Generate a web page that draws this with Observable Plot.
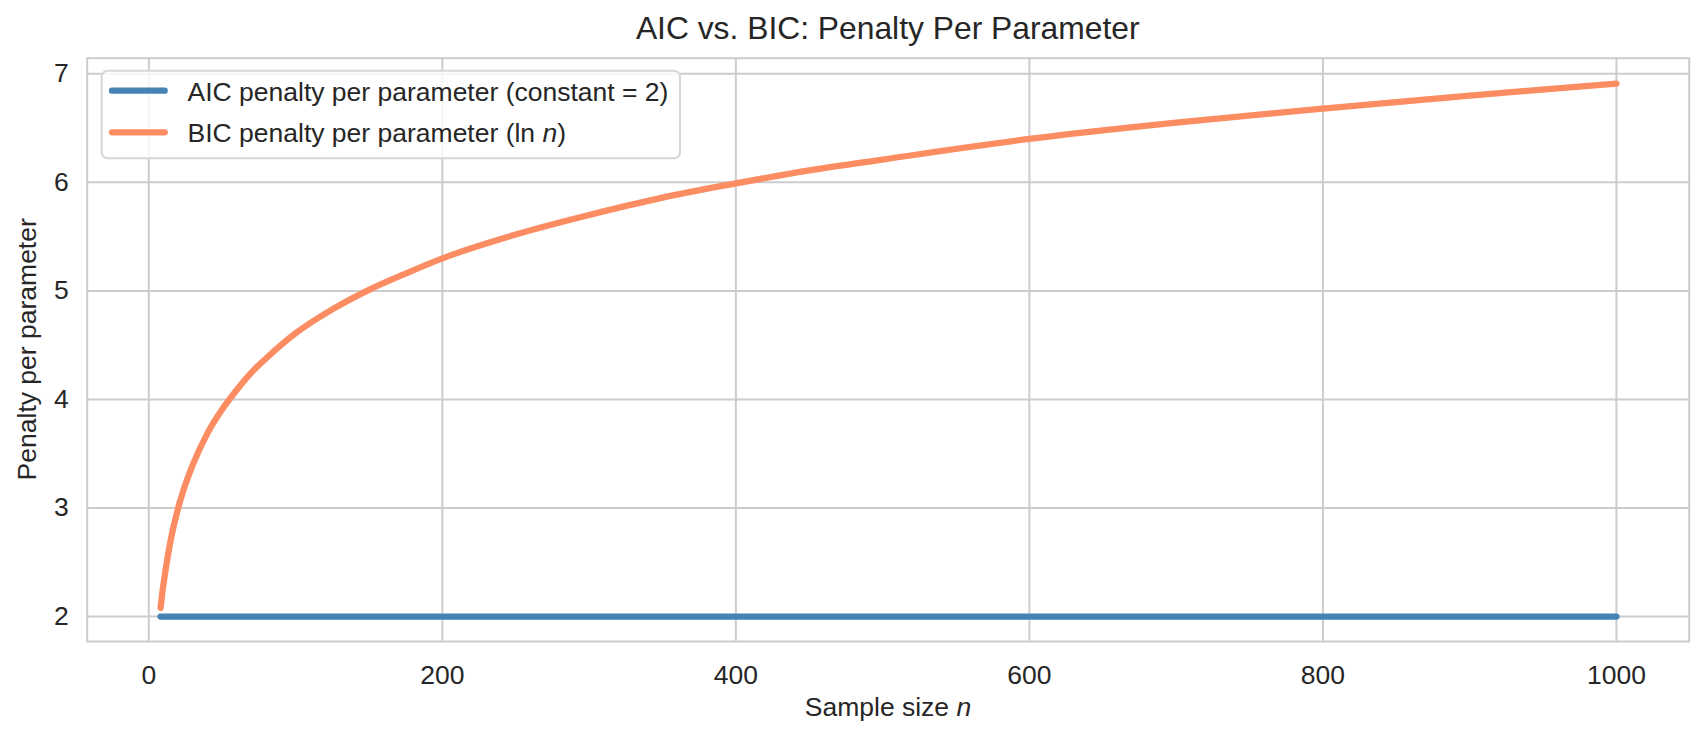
<!DOCTYPE html>
<html>
<head>
<meta charset="utf-8">
<script src="https://cdn.jsdelivr.net/npm/d3@7"></script>
<script src="https://cdn.jsdelivr.net/npm/@observablehq/plot@0.6"></script>
<style>
  html, body { margin: 0; padding: 0; background: #ffffff; }
  #chart { width: 1707px; height: 743px; }
</style>
</head>
<body>
<div id="chart"></div>
<script>
// ---- data ----
const titleText = "AIC vs. BIC: Penalty Per Parameter";
const xLabelText = "Sample size ";
const yLabelText = "Penalty per parameter";
const aicLabel = "AIC penalty per parameter (constant = 2)";
const bicLabel = "BIC penalty per parameter (ln ";

const xTicks = [0, 200, 400, 600, 800, 1000];
const yTicks = [2, 3, 4, 5, 6, 7];

const aicN = [8, 1000];
const aicValues = [2, 2];

const bicN = [8, 9, 10, 12, 15, 20, 25, 30, 40, 50, 60, 70, 80, 100, 125, 150, 175, 200, 250, 300, 350, 400, 450, 500, 600, 700, 800, 900, 1000];
const bicValues = [2.08, 2.20, 2.30, 2.48, 2.71, 3.00, 3.22, 3.40, 3.69, 3.91, 4.09, 4.25, 4.38, 4.61, 4.83, 5.01, 5.16, 5.30, 5.52, 5.70, 5.86, 5.99, 6.11, 6.21, 6.40, 6.55, 6.68, 6.80, 6.91];

const aicColor = "#4682b4";
const bicColor = "#fc8d62";

const aic = aicN.map((n, i) => ({n, v: aicValues[i]}));
const bic = bicN.map((n, i) => ({n, v: bicValues[i]}));

const FONT = "'Liberation Sans', Arial, Helvetica, sans-serif";
const TXT = "#262626";
const GRID = "#cccccc";

const chart = Plot.plot({
  width: 1707,
  height: 743,
  marginLeft: 86.7,
  marginRight: 18.3,
  marginTop: 57.7,
  marginBottom: 102,
  style: {fontFamily: FONT, fontSize: "26.5px", color: TXT, background: "#ffffff"},
  x: {domain: [-42, 1049.6], label: null},
  y: {domain: [1.77, 7.144], label: null},
  marks: [
    Plot.gridX(xTicks, {stroke: GRID, strokeOpacity: 1, strokeWidth: 2}),
    Plot.gridY(yTicks, {stroke: GRID, strokeOpacity: 1, strokeWidth: 2}),
    Plot.frame({stroke: GRID, strokeWidth: 2}),
    Plot.axisX(xTicks, {tickSize: 0, tickPadding: 24, label: null, tickFormat: d => String(d)}),
    Plot.axisY(yTicks, {tickSize: 0, tickPadding: 18.4, label: null, tickFormat: d => String(d)}),
    Plot.line(aic, {x: "n", y: "v", stroke: aicColor, strokeWidth: 6.3, strokeLinecap: "round"}),
    Plot.line(bic, {x: "n", y: "v", stroke: bicColor, strokeWidth: 6.3, strokeLinecap: "round", curve: "monotone-x"})
  ]
});

document.getElementById("chart").appendChild(chart);

const svg = d3.select(chart);
const ann = svg.append("g").attr("font-family", FONT).attr("fill", TXT);

// title
ann.append("text")
  .attr("x", 887.7).attr("y", 39.3)
  .attr("text-anchor", "middle")
  .attr("font-size", "31.8px")
  .text(titleText);

// x label
const xl = ann.append("text")
  .attr("x", 888).attr("y", 716)
  .attr("text-anchor", "middle")
  .attr("font-size", "26.5px");
xl.append("tspan").text(xLabelText);
xl.append("tspan").attr("font-style", "italic").text("n");

// y label
ann.append("text")
  .attr("transform", "translate(36.3,349.3) rotate(-90)")
  .attr("text-anchor", "middle")
  .attr("font-size", "26.5px")
  .text(yLabelText);

// legend
const lg = svg.append("g").attr("font-family", FONT).attr("text-anchor", "start");
lg.append("rect")
  .attr("x", 101.7).attr("y", 70.7)
  .attr("width", 578.3).attr("height", 87.6)
  .attr("rx", 6).attr("ry", 6)
  .attr("fill", "#ffffff").attr("fill-opacity", 0.8)
  .attr("stroke", "#d6d6d6").attr("stroke-width", 2);

const rows = [
  {color: aicColor, y: 90.7, base: 101, label: aicLabel, italic: null, tail: ""},
  {color: bicColor, y: 132.3, base: 142.3, label: bicLabel, italic: "n", tail: ")"}
];
rows.forEach(r => {
  lg.append("line")
    .attr("x1", 112).attr("x2", 164.7)
    .attr("y1", r.y).attr("y2", r.y)
    .attr("stroke", r.color).attr("stroke-width", 6.3)
    .attr("stroke-linecap", "round");
  const t = lg.append("text")
    .attr("x", 187.5).attr("y", r.base)
    .attr("text-anchor", "start")
    .attr("font-size", "26.5px").attr("fill", TXT);
  t.append("tspan").text(r.label);
  if (r.italic) {
    t.append("tspan").attr("font-style", "italic").text(r.italic);
    t.append("tspan").text(r.tail);
  }
});
</script>
</body>
</html>
